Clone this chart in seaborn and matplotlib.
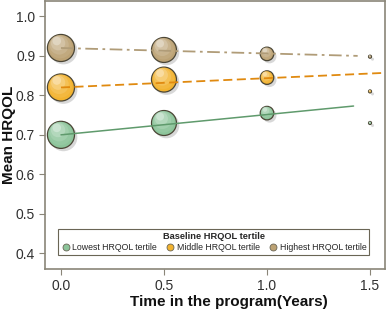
import matplotlib
matplotlib.use("Agg")
import matplotlib.pyplot as plt
import matplotlib.transforms as mtransforms
from matplotlib.lines import Line2D
from matplotlib.colors import to_rgb
import seaborn as sns
import numpy as np
import pandas as pd

# ---- data ----
times = [0.0, 0.5, 1.0, 1.5]
groups = ["Lowest HRQOL tertile", "Middle HRQOL tertile", "Highest HRQOL tertile"]
lowest_vals = [0.700, 0.730, 0.755, 0.730]
middle_vals = [0.820, 0.840, 0.845, 0.810]
highest_vals = [0.920, 0.915, 0.905, 0.898]
bubble_n = [100, 85, 25, 1.2]          # relative bubble sizes per time point
fit_x = [0.0, 1.42]
lowest_fit = [0.700, 0.773]
fit_x_mid = [0.0, 1.57]
middle_fit = [0.820, 0.857]
fit_x_high = [0.0, 1.44]
highest_fit = [0.920, 0.900]

colors = {"Lowest HRQOL tertile": "#8cc49a",
          "Middle HRQOL tertile": "#f2b330",
          "Highest HRQOL tertile": "#bca274"}
line_colors = {"Lowest HRQOL tertile": "#5f9a6c",
               "Middle HRQOL tertile": "#e08a10",
               "Highest HRQOL tertile": "#b09c78"}

rows = []
for g, vals in zip(groups, [lowest_vals, middle_vals, highest_vals]):
    for t, v, n in zip(times, vals, bubble_n):
        rows.append({"time": t, "hrqol": v, "group": g, "n": n})
df = pd.DataFrame(rows)

sns.set_theme(style="white")
plt.rcParams["font.family"] = ["Liberation Sans", "DejaVu Sans"]

fig = plt.figure(figsize=(3.87, 3.10), dpi=100, facecolor="white")
ax = fig.add_axes([0.116, 0.132, 0.879, 0.866])
ax.set_facecolor("white")

# fit lines (drawn over bubbles)
ax.plot(fit_x, lowest_fit, color=line_colors[groups[0]], lw=1.1, zorder=6)
ax.plot(fit_x_mid, middle_fit, color=line_colors[groups[1]], lw=1.3, ls=(0, (5, 2.5)), zorder=6)
ax.plot(fit_x_high, highest_fit, color=line_colors[groups[2]], lw=1.3, ls=(0, (7, 2.5, 1.5, 2.5)), zorder=6)

scale = 3.8
smin, smax = bubble_n[3] * scale, bubble_n[0] * scale
df["s"] = np.interp(df.n, [bubble_n[3], bubble_n[0]], [smin, smax])

# shadows
shadow_tr = ax.transData + mtransforms.ScaledTranslation(1.8 / 72, -1.8 / 72, fig.dpi_scale_trans)
ax.scatter(df.time, df.hrqol, s=df.s * 1.05, color="#cfcfcf", edgecolor="none",
           transform=shadow_tr, zorder=2, alpha=0.8)

# base bubbles
sns.scatterplot(data=df, x="time", y="hrqol", hue="group", palette=colors, size="n",
                sizes=(smin, smax), size_norm=(bubble_n[3], bubble_n[0]),
                edgecolor="#4a4535", linewidth=0.9, ax=ax, legend=False, zorder=3)

# shading layers (lighter toward top-left)
for frac, mix in [(0.75, 0.15), (0.5, 0.3), (0.28, 0.5), (0.1, 0.75)]:
    for g in groups:
        base = np.array(to_rgb(colors[g]))
        col = base + (1 - base) * mix
        sub = df[df.group == g]
        for _, r in sub.iterrows():
            rad_pt = np.sqrt(r.s) / 2
            shift = rad_pt * (1 - np.sqrt(frac)) * 0.75
            tr = ax.transData + mtransforms.ScaledTranslation(-shift * 0.6 / 72, shift / 72, fig.dpi_scale_trans)
            ax.scatter([r.time], [r.hrqol], s=r.s * frac, color=col, edgecolor="none",
                       transform=tr, zorder=4, alpha=0.5)

ax.set_xlim(-0.078, 1.573)
ax.set_ylim(0.36, 1.04)
ax.set_xticks([0.0, 0.5, 1.0, 1.5])
ax.set_xticklabels(["0.0", "0.5", "1.0", "1.5"])
ax.set_yticks([0.4, 0.5, 0.6, 0.7, 0.8, 0.9, 1.0])
ax.set_yticklabels(["0.4", "0.5", "0.6", "0.7", "0.8", "0.9", "1.0"])
ax.tick_params(axis="both", which="both", length=4, width=0.8, color="#8a8578",
               labelsize=10, labelcolor="#303030", direction="out", pad=3)
ax.tick_params(axis="x", pad=3)
ax.xaxis.set_ticks_position("bottom")
ax.yaxis.set_ticks_position("left")
for s in ax.spines.values():
    s.set_color("#8a8578")
    s.set_linewidth(1.2)
ax.set_xlabel("")
ax.set_ylabel("")

fig.text(229 / 387, 1 - 302 / 310, "Time in the program(Years)", fontsize=11, fontweight="bold",
         ha="center", va="center", color="#111111")
fig.text(9 / 387, 1 - 135 / 310, "Mean HRQOL", fontsize=11, fontweight="bold",
         ha="center", va="center", rotation=90, color="#111111")

# legend
handles = [Line2D([], [], marker="o", ls="", markersize=5, markerfacecolor=colors[g],
                  markeredgecolor="#6a6555", markeredgewidth=0.6) for g in groups]
leg = ax.legend(handles, groups, title="Baseline HRQOL tertile", ncol=3, loc="center",
                bbox_to_anchor=(0.497, 0.102),
                fontsize=6.3, title_fontproperties={"weight": "bold", "size": 6.7},
                frameon=True, fancybox=False, borderpad=0.35, handletextpad=0.25,
                columnspacing=1.0, handlelength=1.0, borderaxespad=0, labelspacing=0.2)
leg.get_frame().set_edgecolor("#6a6555")
leg.get_frame().set_linewidth(0.8)
leg.get_frame().set_facecolor("white")
leg.get_frame().set_alpha(1)

fig.savefig("out.png", dpi=100, facecolor="white")
